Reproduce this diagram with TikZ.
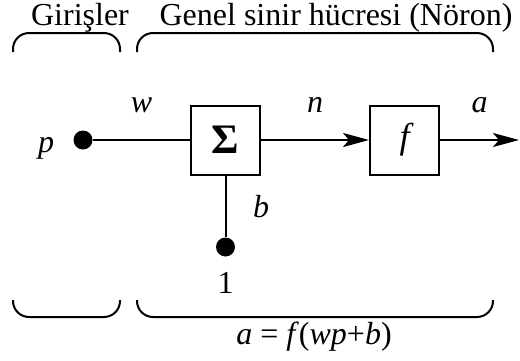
\documentclass[tikz,border=0pt]{standalone}
\usepackage{fontspec}
\setmainfont{Liberation Serif}
\usetikzlibrary{arrows.meta,positioning}

\begin{document}
\begin{tikzpicture}[
    x=0.5pt, y=-0.5pt,
    font=\fontsize{16}{19}\selectfont,
    node distance=54pt,
    block/.style={draw, line width=1pt, minimum size=34.5pt, inner sep=0pt},
    dot/.style={circle, fill, minimum size=9.5pt, inner sep=0pt},
    wire/.style={line width=1pt},
    arrow/.style={wire, -{Stealth[length=13pt, width=7pt, inset=3pt]}},
    brace/.style={line width=1pt, rounded corners=8pt},
    lbl/.style={font=\fontsize{16}{19}\selectfont\itshape}
]
\useasboundingbox (0,0) rectangle (520,360);

% neuron
\node[block, font=\fontsize{21}{24}\selectfont\bfseries] (sum) at (225.5,140) {Σ};
\node[block, font=\fontsize{18}{21}\selectfont\itshape, right=of sum] (act) {f};
\node[dot] (in) at (83,140) {};
\node[dot] (bias) at (225.5,247) {};
\coordinate (out) at (519,140);

\node[lbl, left=6pt of in, yshift=-4pt] (p) {p};
\node[below=4pt of bias] (one) {1};

\draw[wire] (in) -- node[lbl, above=10pt] (w) {w} (sum);
\draw[arrow] (sum) -- node[lbl, above=10pt] (n) {n} (act);
\draw[arrow] (act) -- node[lbl, above=10pt] (a) {a} (out);
\draw[wire] (bias) -- node[lbl, right=10pt] (b) {b} (sum);

% braces
\draw[brace] (13,52) -- (13,33) -- (120,33) -- (120,52);
\draw[brace] (137,52) -- (137,33) -- (493,33) -- (493,52);
\draw[brace] (13,300) -- (13,317) -- (120,317) -- (120,300);
\draw[brace] (137,300) -- (137,317) -- (493,317) -- (493,300);

\node[anchor=base] (inputs) at (80,25) {Girişler};
\node[anchor=base] (neuron) at (336,25) {Genel sinir hücresi (Nöron)};
\node[anchor=base] (eq) at (314,344) {\textit{a} = \textit{f}(\textit{wp}+\textit{b})};
\end{tikzpicture}
\end{document}
